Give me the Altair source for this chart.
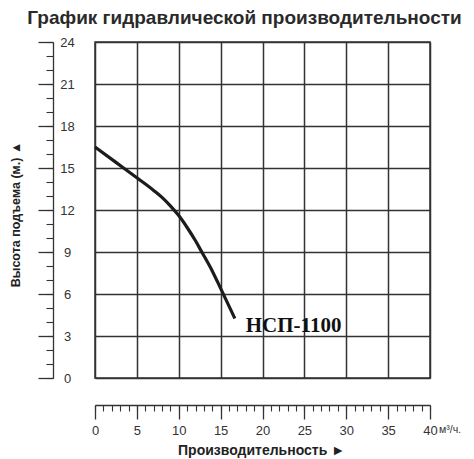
import altair as alt
import pandas as pd

title_text = "График гидравлической производительности"
x_title = "Производительность ►"
y_title = "Высота подъема (м.) ▲"
unit_text = "м³/ч."
model_name = "НСП-1100"

# curve
flow = [0, 2.5, 5, 7, 8, 9, 10, 11, 12, 12.75, 14, 15, 16.7]
head = [16.5, 15.4, 14.3, 13.4, 12.9, 12.3, 11.6, 10.75, 9.8, 9.0, 7.65, 6.4, 4.25]

x_major = [0, 5, 10, 15, 20, 25, 30, 35, 40]
x_minor = [0, 1, 2, 3, 4, 5, 6, 7, 8, 9, 10, 11, 12, 13, 14, 15, 16, 17, 18, 19, 20,
           21, 22, 23, 24, 25, 26, 27, 28, 29, 30, 31, 32, 33, 34, 35, 36, 37, 38, 39, 40]
y_major = [0, 3, 6, 9, 12, 15, 18, 21, 24]
y_minor = [0, 1, 2, 3, 4, 5, 6, 7, 8, 9, 10, 11, 12, 13, 14, 15, 16, 17, 18, 19, 20,
           21, 22, 23, 24]

label_x = [18.0]
label_y = [3.3]
label_text = [model_name]

curve_df = pd.DataFrame({"flow": flow, "head": head})
label_df = pd.DataFrame({"flow": label_x, "head": label_y, "txt": label_text})

W, H = 335, 336
FONT = "Liberation Sans"
xs = alt.Scale(domain=[0, 40], nice=False, zero=False)
ys = alt.Scale(domain=[0, 24], nice=False, zero=False)

line = alt.Chart(curve_df).mark_line(
    interpolate="monotone", color="#1c1c1c", strokeWidth=3.2
).encode(
    x=alt.X("flow:Q", scale=xs, axis=alt.Axis(
        orient="bottom", values=x_major, offset=27, tickSize=14, grid=False,
        domainColor="#333", domainWidth=1.3, tickColor="#333", tickWidth=1.3,
        labelFont=FONT, labelFontSize=13, labelColor="#333", labelPadding=5,
        labelFlush=False,
        title=x_title, titleFont=FONT, titleFontSize=14, titleFontWeight="bold",
        titleColor="#222", titleX=166, titleY=45, titleBaseline="middle",
        titleAlign="center")),
    y=alt.Y("head:Q", scale=ys, axis=alt.Axis(
        orient="left", values=y_major, offset=42, tickSize=15, grid=False,
        domainColor="#333", domainWidth=1.3, tickColor="#333", tickWidth=1.3,
        labelFont=FONT, labelFontSize=13, labelColor="#333", labelPadding=-29,
        labelAlign="center", labelBaseline="middle", labelFlush=False,
        title=y_title, titleFont=FONT, titleFontSize=12.5, titleFontWeight="bold",
        titleColor="#222", titleX=-38, titleY=172, titleAngle=270,
        titleBaseline="middle", titleAlign="center")),
)

minor = alt.Chart(curve_df).mark_point(opacity=0).encode(
    x=alt.X("flow:Q", scale=xs, axis=alt.Axis(
        orient="bottom", values=x_minor, offset=27, tickSize=6, grid=False,
        domain=False, labels=False, tickColor="#333", tickWidth=1.1, title=None)),
    y=alt.Y("head:Q", scale=ys, axis=alt.Axis(
        orient="left", values=y_minor, offset=42, tickSize=7, grid=False,
        domain=False, labels=False, tickColor="#333", tickWidth=1.1, title=None)),
)

grid = alt.Chart(curve_df).mark_point(opacity=0).encode(
    x=alt.X("flow:Q", scale=xs, axis=alt.Axis(
        orient="bottom", values=x_major, grid=True, gridColor="#333",
        gridWidth=1.5, gridOpacity=1, domain=False, ticks=False, labels=False,
        title=None)),
    y=alt.Y("head:Q", scale=ys, axis=alt.Axis(
        orient="left", values=y_major, grid=True, gridColor="#333",
        gridWidth=1.5, gridOpacity=1, domain=False, ticks=False, labels=False,
        title=None)),
)

model_label = alt.Chart(label_df).mark_text(
    font="Liberation Serif", fontSize=21, fontWeight="bold", color="#111",
    align="left", baseline="alphabetic"
).encode(
    x=alt.X("flow:Q", scale=xs, axis=None),
    y=alt.Y("head:Q", scale=ys, axis=None),
    text="txt:N",
)

unit_label = alt.Chart(pd.DataFrame({"t": [unit_text]})).mark_text(
    font=FONT, fontSize=10.5, color="#333", align="left", baseline="middle", dx=9
).encode(
    x=alt.X(datum=40, scale=xs, axis=None),
    y=alt.value(H + 52),
    text="t:N",
)

chart = alt.layer(grid, minor, line, model_label, unit_label).resolve_axis(
    x="independent", y="independent"
).properties(
    width=W, height=H,
    title=alt.TitleParams(title_text, font=FONT, fontSize=19, fontWeight="bold",
                          color="#2a2a2a", anchor="middle", dx=-18, offset=8),
    autosize=alt.AutoSizeParams(type="none"),
    padding={"left": 87, "top": 34, "right": 36, "bottom": 82},
).configure_view(stroke="#333", strokeWidth=1.5)

chart.save("out.html", embed_options={"renderer": "svg", "actions": False})
